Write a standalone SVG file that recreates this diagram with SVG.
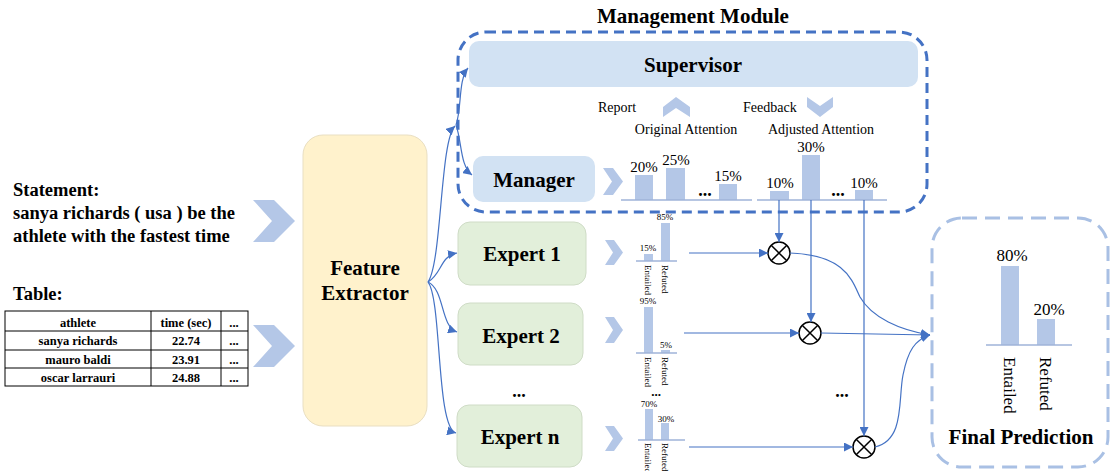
<svg xmlns="http://www.w3.org/2000/svg" width="1111" height="471" viewBox="0 0 1111 471">
  <style>
    text { font-family: "Liberation Serif", "Times New Roman", serif; fill: #000; }
    .b { font-weight: bold; }
    .node-lbl { font-weight: bold; font-size: 21px; text-anchor: middle; }
    .bar { fill: #b4c7e7; }
    .axis { stroke: #9fb3d9; stroke-width: 1.5; fill: none; }
    .chev { fill: #b4c7e7; }
    .conn { stroke: #4472c4; stroke-width: 1.2; fill: none; }
    .pct { font-size: 15px; text-anchor: middle; }
    .spct { font-size: 9px; text-anchor: middle; }
    .slbl { font-size: 9px; }
    .dots { font-weight: bold; font-size: 18px; text-anchor: middle; }
    .otimes { fill: #fff; stroke: #000; stroke-width: 1.5; }
    .tbl { stroke: #000; stroke-width: 1; fill: none; }
    .tt { font-weight: bold; font-size: 12.5px; text-anchor: middle; }
  </style>
  <defs>
    <marker id="arrow" viewBox="0 0 10 10" refX="10" refY="5" markerWidth="9" markerHeight="9" markerUnits="userSpaceOnUse" orient="auto">
      <path d="M0,0 L10,5 L0,10 z" fill="#4472c4"/>
    </marker>
  </defs>
  <rect width="1111" height="471" fill="#fff"/>

  <!-- input: statement -->
  <g id="statement">
    <text class="b" x="13" y="196" font-size="18.5">Statement:</text>
    <text class="b" x="13" y="219" font-size="18.5">sanya richards ( usa ) be the</text>
    <text class="b" x="13" y="242" font-size="18.5">athlete with the fastest time</text>
    <path class="chev" d="M253,200 L274,200 L295,221 L274,242 L253,242 L272,221 Z"/>
  </g>

  <!-- input: table -->
  <g id="table">
    <text class="b" x="13" y="300" font-size="18.5">Table:</text>
    <rect class="tbl" x="5" y="311" width="243" height="75"/>
    <line class="tbl" x1="5" y1="331" x2="248" y2="331" stroke-width="2"/>
    <line class="tbl" x1="5" y1="350" x2="248" y2="350"/>
    <line class="tbl" x1="5" y1="368" x2="248" y2="368"/>
    <line class="tbl" x1="151" y1="311" x2="151" y2="386"/>
    <line class="tbl" x1="221" y1="311" x2="221" y2="386"/>
    <text class="tt" x="78" y="327">athlete</text>
    <text class="tt" x="186" y="327">time (sec)</text>
    <text class="tt" x="234" y="327">...</text>
    <text class="tt" x="78" y="345">sanya richards</text>
    <text class="tt" x="186" y="345">22.74</text>
    <text class="tt" x="234" y="345">...</text>
    <text class="tt" x="78" y="364">mauro baldi</text>
    <text class="tt" x="186" y="364">23.91</text>
    <text class="tt" x="234" y="364">...</text>
    <text class="tt" x="78" y="382">oscar larrauri</text>
    <text class="tt" x="186" y="382">24.88</text>
    <text class="tt" x="234" y="382">...</text>
    <path class="chev" d="M253,325 L274,325 L295,346 L274,367 L253,367 L272,346 Z"/>
  </g>

  <!-- feature extractor -->
  <g id="feature-extractor">
    <rect x="303" y="135" width="124" height="291" rx="20" fill="#fff2cc" stroke="#e9dfc2" stroke-width="1"/>
    <text class="node-lbl" x="365" y="275">Feature</text>
    <text class="node-lbl" x="365" y="300">Extractor</text>
  </g>

  <!-- management module -->
  <g id="management-module">
    <text class="b" x="693" y="23" font-size="21" text-anchor="middle">Management Module</text>
    <rect x="458" y="32" width="469" height="180" rx="28" fill="none" stroke="#4472c4" stroke-width="3" stroke-dasharray="10 6"/>
  </g>

  <g id="supervisor">
    <rect x="469" y="41" width="449" height="46" rx="10" fill="#d2e2f3"/>
    <text class="node-lbl" x="693" y="72">Supervisor</text>
  </g>

  <g id="report-feedback">
    <text x="598" y="112" font-size="14">Report</text>
    <path class="chev" d="M663,107 L676,97 L690,107 L690,117 L676,108 L663,117 Z"/>
    <text x="743" y="112" font-size="14">Feedback</text>
    <path class="chev" d="M807,97 L820,106 L833,97 L833,107 L820,117 L807,107 Z"/>
    <text x="686" y="134" font-size="14" text-anchor="middle">Original Attention</text>
    <text x="821" y="134" font-size="14" text-anchor="middle">Adjusted Attention</text>
  </g>

  <g id="manager">
    <rect x="473" y="156" width="122" height="46" rx="10" fill="#d2e2f3"/>
    <text class="node-lbl" x="534" y="187">Manager</text>
    <path class="chev" d="M603,168 L613,168 L623,181.5 L613,195 L603,195 L612,181.5 Z"/>
  </g>

  <!-- original attention chart -->
  <g id="original-attention">
    <rect class="bar" x="635" y="175" width="18" height="25"/>
    <rect class="bar" x="666" y="168" width="19" height="32"/>
    <rect class="bar" x="719" y="184" width="18" height="16"/>
    <line class="axis" x1="621" y1="200" x2="752" y2="200"/>
    <text class="pct" x="644" y="172">20%</text>
    <text class="pct" x="676" y="165">25%</text>
    <text class="pct" x="728" y="181">15%</text>
    <text class="dots" x="705" y="196">...</text>
  </g>

  <!-- adjusted attention chart -->
  <g id="adjusted-attention">
    <rect class="bar" x="770" y="191" width="19" height="9"/>
    <rect class="bar" x="802" y="155" width="18" height="45"/>
    <rect class="bar" x="855" y="190" width="18" height="10"/>
    <line class="axis" x1="757" y1="200" x2="887" y2="200"/>
    <text class="pct" x="780" y="188">10%</text>
    <text class="pct" x="811" y="152">30%</text>
    <text class="pct" x="864" y="188">10%</text>
    <text class="dots" x="838" y="196">...</text>
  </g>

  <!-- experts -->
  <g id="expert-1">
    <rect x="458" y="222" width="128" height="63" rx="12" fill="#e2efda" stroke="#cfdcc6" stroke-width="1"/>
    <text class="node-lbl" x="522" y="261">Expert 1</text>
    <path class="chev" d="M605,240 L614,240 L623,252.5 L614,265 L605,265 L613,252.5 Z"/>
    <rect class="bar" x="644" y="254" width="9" height="7"/>
    <rect class="bar" x="661" y="223" width="9" height="38"/>
    <line class="axis" x1="636" y1="261" x2="677" y2="261"/>
    <text class="spct" x="648" y="251">15%</text>
    <text class="spct" x="665" y="220">85%</text>
    <text class="slbl" transform="translate(645,265) rotate(90)">Entailed</text>
    <text class="slbl" transform="translate(662,265) rotate(90)">Refuted</text>
  </g>

  <g id="expert-2">
    <rect x="458" y="303" width="125" height="62" rx="12" fill="#e2efda" stroke="#cfdcc6" stroke-width="1"/>
    <text class="node-lbl" x="521" y="343">Expert 2</text>
    <path class="chev" d="M605,317 L614,317 L623,330 L614,343 L605,343 L613,330 Z"/>
    <rect class="bar" x="644" y="307" width="9" height="46"/>
    <rect class="bar" x="661" y="350" width="9" height="3"/>
    <line class="axis" x1="636" y1="353" x2="677" y2="353"/>
    <text class="spct" x="648" y="304">95%</text>
    <text class="spct" x="666" y="348">5%</text>
    <text class="slbl" transform="translate(645,357) rotate(90)">Entailed</text>
    <text class="slbl" transform="translate(662,357) rotate(90)">Refuted</text>
  </g>

  <g id="expert-n">
    <rect x="457" y="405" width="125" height="62" rx="12" fill="#e2efda" stroke="#cfdcc6" stroke-width="1"/>
    <text class="node-lbl" x="520" y="444">Expert n</text>
    <path class="chev" d="M605,426 L614,426 L623,438.5 L614,451 L605,451 L613,438.5 Z"/>
    <rect class="bar" x="645" y="409" width="8" height="31"/>
    <rect class="bar" x="661" y="423" width="8" height="17"/>
    <line class="axis" x1="638" y1="440" x2="685" y2="440"/>
    <text class="spct" x="649" y="407">70%</text>
    <text class="spct" x="666" y="422">30%</text>
    <text class="slbl" transform="translate(645,443) rotate(90)">Entailed</text>
    <text class="slbl" transform="translate(662,443) rotate(90)">Refuted</text>
  </g>

  <g id="ellipses">
    <text class="dots" x="519" y="397">...</text>
    <text class="b" x="656" y="396" font-size="13" text-anchor="middle">...</text>
    <text class="dots" x="842" y="397">...</text>
  </g>

  <!-- weighting operators -->
  <g id="mul-1">
    <circle class="otimes" cx="779" cy="253" r="11"/>
    <path d="M771.2,245.2 L786.8,260.8 M786.8,245.2 L771.2,260.8" stroke="#000" stroke-width="1.5"/>
  </g>
  <g id="mul-2">
    <circle class="otimes" cx="810" cy="333" r="11"/>
    <path d="M802.2,325.2 L817.8,340.8 M817.8,325.2 L802.2,340.8" stroke="#000" stroke-width="1.5"/>
  </g>
  <g id="mul-n">
    <circle class="otimes" cx="864" cy="447" r="11"/>
    <path d="M856.2,439.2 L871.8,454.8 M871.8,439.2 L856.2,454.8" stroke="#000" stroke-width="1.5"/>
  </g>

  <!-- final prediction -->
  <g id="final-prediction">
    <rect x="932" y="218" width="176" height="249" rx="30" fill="none" stroke="#a9c0e4" stroke-width="3" stroke-dasharray="15 8"/>
    <rect class="bar" x="1001" y="266" width="18" height="79"/>
    <rect class="bar" x="1037" y="319" width="18" height="26"/>
    <line class="axis" x1="986" y1="345" x2="1072" y2="345"/>
    <text x="1012" y="261" font-size="17" text-anchor="middle">80%</text>
    <text x="1049" y="315" font-size="17" text-anchor="middle">20%</text>
    <text transform="translate(1004,357) rotate(90)" font-size="17">Entailed</text>
    <text transform="translate(1040,357) rotate(90)" font-size="17">Refuted</text>
    <text class="b" x="1021" y="444" font-size="21" text-anchor="middle">Final Prediction</text>
  </g>

  <!-- connectors -->
  <g id="connectors">
    <path class="conn" d="M428,282 C442,262 440,140 455,126" marker-end="url(#arrow)"/>
    <path class="conn" d="M456,125 C462,108 458,80 468,68" marker-end="url(#arrow)"/>
    <path class="conn" d="M456,125 C462,142 460,166 472,175" marker-end="url(#arrow)"/>
    <path class="conn" d="M428,282 C442,274 440,256 457,253" marker-end="url(#arrow)"/>
    <path class="conn" d="M428,282 C445,290 440,326 457,332" marker-end="url(#arrow)"/>
    <path class="conn" d="M428,282 C442,300 436,428 456,433" marker-end="url(#arrow)"/>

    <path class="conn" d="M779,200 L779,242" marker-end="url(#arrow)"/>
    <path class="conn" d="M811,200 L811,322" marker-end="url(#arrow)"/>
    <path class="conn" d="M864,200 L864,436" marker-end="url(#arrow)"/>

    <path class="conn" d="M689,253 L768,253" marker-end="url(#arrow)"/>
    <path class="conn" d="M684,333 L799,333" marker-end="url(#arrow)"/>
    <path class="conn" d="M689,447 L853,447" marker-end="url(#arrow)"/>

    <path class="conn" d="M790,253 C845,255 852,280 860,297 C872,318 900,330 930,335" marker-end="url(#arrow)"/>
    <path class="conn" d="M821,333 L930,335" marker-end="url(#arrow)"/>
    <path class="conn" d="M875,447 C905,440 898,400 903,375 C908,350 915,340 930,335" marker-end="url(#arrow)"/>
  </g>
</svg>
